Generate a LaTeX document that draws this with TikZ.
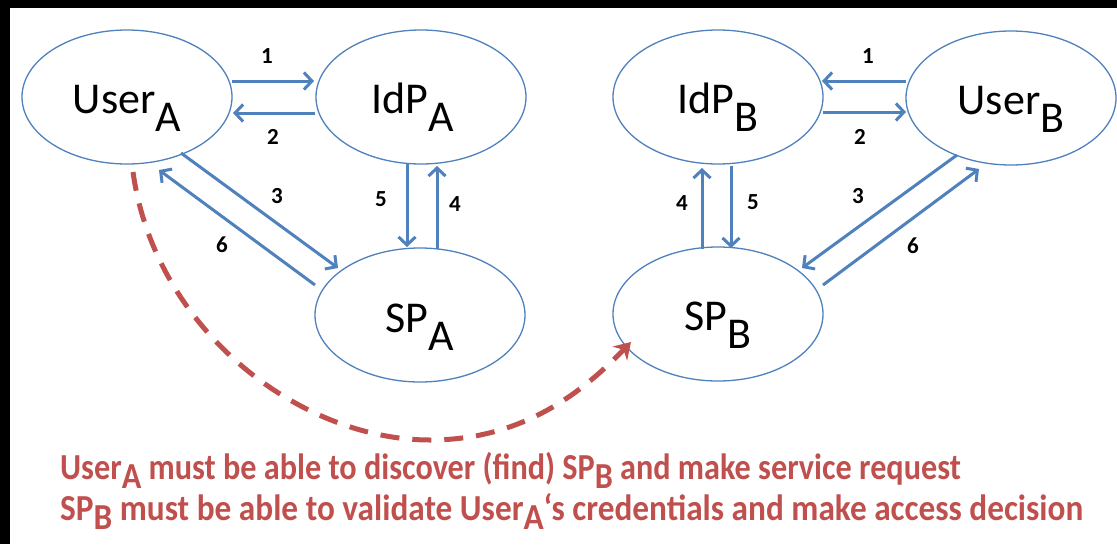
\documentclass[tikz,border=0pt]{standalone}
\usepackage{fontspec}
\setmainfont{Carlito}
\usetikzlibrary{shapes.geometric,arrows.meta}
\definecolor{accblue}{HTML}{4F81BD}
\definecolor{accred}{HTML}{C0504D}
\newcommand{\lowsub}[1]{\raisebox{-0.42em}{#1}}
\newcommand{\notesub}[1]{\raisebox{-0.26em}{#1}}
\begin{document}
\begin{tikzpicture}[x=1pt,y=-1pt,
  ent/.style={ellipse, draw=accblue, line width=1.3pt, minimum width=210pt, minimum height=134pt, inner sep=0pt},
  enttext/.style={font=\fontsize{44}{50}\selectfont, anchor=base, inner sep=0pt},
  flow/.style={draw=accblue, line width=3pt, -{Straight Barb[length=8pt,width=17pt,line width=3pt]}},
  num/.style={font=\fontsize{23}{26}\selectfont\bfseries, inner sep=0pt},
  note/.style={font=\fontsize{33.3}{36}\selectfont\bfseries, text=accred, anchor=base west, inner sep=0pt},
  discover/.style={draw=accred, line width=5pt, dash pattern=on 19pt off 13pt, -{Stealth[length=16pt,width=20pt]}}
]
\useasboundingbox (0,0) rectangle (1117,544);
\fill[black] (0,0) rectangle (1117,544);
\fill[white] (10,8) rectangle (1117,544);

% entities
\node[ent] (UA) at (127,97) {};
\node[ent] (IA) at (421,97) {};
\node[ent] (SA) at (420,315) {};
\node[ent] (IB) at (718,97) {};
\node[ent] (UB) at (1011,98) {};
\node[ent] (SB) at (718,314) {};

\node[enttext] (tUA) at ([shift={(0,16)}]UA.center) {User\lowsub{A}};
\node[enttext] (tIA) at ([shift={(-8,16)}]IA.center) {IdP\lowsub{A}};
\node[enttext] (tSA) at ([shift={(0,17)}]SA.center) {SP\lowsub{A}};
\node[enttext] (tIB) at ([shift={(0,16)}]IB.center) {IdP\lowsub{B}};
\node[enttext] (tUB) at ([shift={(0,16)}]UB.center) {User\lowsub{B}};
\node[enttext] (tSB) at ([shift={(0,16)}]SB.center) {SP\lowsub{B}};

% side A flows
\coordinate (a1s) at (232,81);  \coordinate (a1e) at (314,81);
\coordinate (a2s) at (315,113); \coordinate (a2e) at (233,113);
\draw[flow] (a1s) -- (a1e);
\draw[flow] (a2s) -- (a2e);
\coordinate (a3s) at (181,153); \coordinate (a3e) at (338,268);
\coordinate (a6s) at (315,285); \coordinate (a6e) at (159,170);
\draw[flow] (a3s) -- (a3e);
\draw[flow] (a6s) -- (a6e);
\coordinate (a5s) at (407,164); \coordinate (a5e) at (407,247);
\coordinate (a4s) at (437,249); \coordinate (a4e) at (437,166);
\draw[flow] (a5s) -- (a5e);
\draw[flow] (a4s) -- (a4e);

\node[num] (nA1) at (267,56) {1};
\node[num] (nA2) at (273,137) {2};
\node[num] (nA3) at (277,196) {3};
\node[num] (nA6) at (222,245) {6};
\node[num] (nA5) at (381,199) {5};
\node[num] (nA4) at (455,204) {4};

% side B flows
\coordinate (b1s) at (906,81);  \coordinate (b1e) at (822,81);
\coordinate (b2s) at (823,112); \coordinate (b2e) at (906,112);
\draw[flow] (b1s) -- (b1e);
\draw[flow] (b2s) -- (b2e);
\coordinate (b4s) at (702,249); \coordinate (b4e) at (702,168);
\coordinate (b5s) at (731,166); \coordinate (b5e) at (731,248);
\draw[flow] (b4s) -- (b4e);
\draw[flow] (b5s) -- (b5e);
\coordinate (b3s) at (957,155); \coordinate (b3e) at (802,268);
\coordinate (b6s) at (823,285); \coordinate (b6e) at (979,169);
\draw[flow] (b3s) -- (b3e);
\draw[flow] (b6s) -- (b6e);

\node[num] (nB1) at (868,56) {1};
\node[num] (nB2) at (860,137) {2};
\node[num] (nB4) at (682,203) {4};
\node[num] (nB5) at (753,202) {5};
\node[num] (nB3) at (858,196) {3};
\node[num] (nB6) at (913,246) {6};

% discovery path
\coordinate (ds) at (133,172);
\coordinate (dm) at (430,440);
\coordinate (de) at (631,342);
\draw[discover] (ds) .. controls (155,330) and (300,440) .. (dm) .. controls (520,440) and (580,395) .. (de);

% notes
\node[note] (note1) at (60,479) {\scalebox{0.968}[1.1]{User\notesub{A} must be able to discover (find) SP\notesub{B} and make service request}};
\node[note] (note2) at (60,520) {\scalebox{1}[1.1]{SP\notesub{B} must be able to validate User\notesub{A}‘s credentials and make access decision}};
\end{tikzpicture}
\end{document}
